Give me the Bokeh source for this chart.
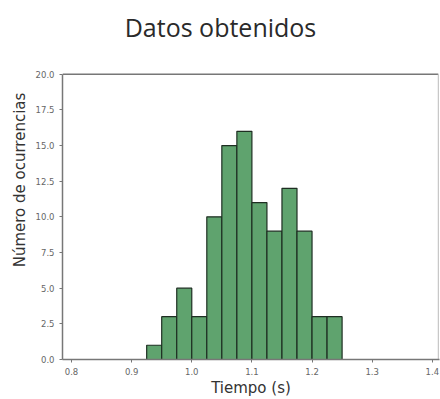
from bokeh.plotting import figure
from bokeh.embed import file_html
from bokeh.resources import INLINE
from bokeh.models import FixedTicker, PrintfTickFormatter, Range1d, Label

# Data
bin_edges = [0.925, 0.95, 0.975, 1.0, 1.025, 1.05, 1.075, 1.1, 1.125, 1.15, 1.175, 1.2, 1.225, 1.25]
counts = [1, 3, 5, 3, 10, 15, 16, 11, 9, 12, 9, 3, 3]
x_ticks = [0.8, 0.9, 1.0, 1.1, 1.2, 1.3, 1.4]
y_ticks = [0.0, 2.5, 5.0, 7.5, 10.0, 12.5, 15.0, 17.5, 20.0]
title_text = "Datos obtenidos"

X0, X1 = 0.785, 1.41
Y0, Y1 = 0.0, 20.0
# frame covers whole height above x-axis; the axes box spans 0..20, the extra room holds the title
p = figure(width=440, height=399, output_backend="svg", toolbar_location=None,
           x_range=Range1d(X0, X1 + 0.002), y_range=Range1d(Y0, 25.17),
           min_border_left=62, min_border_right=1, min_border_top=0, min_border_bottom=39)

p.quad(left=bin_edges[:-1], right=bin_edges[1:], bottom=0, top=counts,
       fill_color="#5fa36e", line_color="#1e2e22", line_width=1.2)

# top and right spines of the axes box
p.segment(x0=[X0, X1], y0=[Y1, Y0], x1=[X1, X1], y1=[Y1, Y1],
          line_color=["#777777", "#bbbbbb"], line_width=[1.5, 1.0])

# title, positioned in screen units relative to the frame (origin at frame bottom-left)
title = Label(x=158, y=333, x_units="screen", y_units="screen", text=title_text,
              text_align="center", text_baseline="alphabetic",
              text_font="Open Sans", text_font_size="25px", text_color="#2a2a2a")
p.add_layout(title)

p.grid.visible = False
p.outline_line_color = None
p.background_fill_color = "white"
p.border_fill_color = "white"

for ax in (p.xaxis[0], p.yaxis[0]):
    ax.axis_line_color = "#777777"
    ax.axis_line_width = 1.5
    ax.major_tick_line_color = "#777777"
    ax.major_tick_out = 3
    ax.major_tick_in = 0
    ax.minor_tick_line_color = None
    ax.major_label_text_font = "DejaVu Sans"
    ax.major_label_text_font_size = "8.5px"
    ax.major_label_text_color = "#666666"
    ax.axis_label_text_font = "DejaVu Sans"
    ax.axis_label_text_font_size = "15px"
    ax.axis_label_text_font_style = "normal"
    ax.axis_label_text_color = "#333333"

p.yaxis.bounds = (Y0, Y1)
p.xaxis.ticker = FixedTicker(ticks=x_ticks)
p.yaxis.ticker = FixedTicker(ticks=y_ticks)
p.xaxis.formatter = PrintfTickFormatter(format="%.1f")
p.yaxis.formatter = PrintfTickFormatter(format="%.1f")
p.xaxis.axis_label = "Tiempo (s)"
p.yaxis.axis_label = "Número de ocurrencias"
p.xaxis.axis_label_standoff = 1
p.yaxis.axis_label_standoff = 4

open("out.html", "w").write(file_html(p, INLINE))
